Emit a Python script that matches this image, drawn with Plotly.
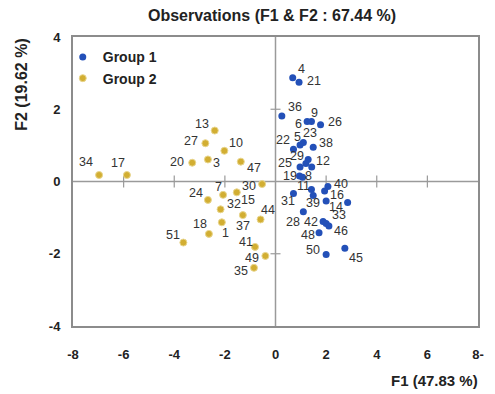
import plotly.graph_objects as go

# ---- data ----
g1_ids = ["4", "21", "36", "6", "9", "26", "22", "5", "23", "38", "29", "2", "12", "25",
          "19", "8", "11", "31", "43", "40", "16", "39", "14", "28", "42", "33", "46",
          "48", "45", "50"]
g1_f1 = [0.68, 0.93, 0.25, 1.25, 1.42, 1.78, 0.71, 0.97, 1.10, 1.49, 1.29, 1.20, 1.43, 0.97,
         0.95, 1.07, 1.42, 0.71, 1.49, 2.07, 1.94, 2.00, 2.85, 1.10, 1.88, 2.00, 2.11,
         1.72, 2.74, 2.00]
g1_f2 = [2.87, 2.75, 1.81, 1.66, 1.66, 1.57, 0.89, 1.01, 1.08, 0.95, 0.61, 0.50, 0.40, 0.40,
         0.15, 0.12, -0.22, -0.33, -0.39, -0.14, -0.26, -0.54, -0.58, -0.84, -1.11, -1.16, -1.23,
         -1.42, -1.85, -2.02]
g1_hidden_labels = ["2", "43"]

g2_ids = ["34", "17", "13", "27", "10", "20", "3", "47", "30", "7", "15", "24", "32", "37",
          "44", "1", "18", "51", "41", "49", "35"]
g2_f1 = [-6.97, -5.87, -2.40, -2.77, -2.02, -3.29, -2.67, -1.37, -0.53, -2.07, -1.53, -2.67,
         -2.17, -1.29, -0.59, -2.12, -2.63, -3.64, -0.81, -0.40, -0.85]
g2_f2 = [0.18, 0.18, 1.41, 1.06, 0.85, 0.52, 0.61, 0.55, -0.07, -0.37, -0.30, -0.51,
         -0.77, -0.93, -1.05, -1.13, -1.45, -1.69, -1.81, -2.06, -2.39]

x_ticks = [-8, -6, -4, -2, 0, 2, 4, 6, 8]
x_ticktext = ["-8", "-6", "-4", "-2", "0", "2", "4", "6", "8-"]
y_ticks = [-4, -2, 0, 2, 4]
y_ticktext = ["-4", "-2", "0", "2", "4"]

# ---- label offsets in pixels (dx right, dy down) : style only ----
g1_off = [(9, -9), (15, -1), (13, -9), (-9, 2), (3, -9), (14, -3), (-10, -9), (-3, -8),
          (7, -9), (13, -4), (-11, -3), (0, 0), (11, -6), (-15, -4), (-10, 0), (6, -1),
          (-8, -3), (-5, 8), (0, 0), (13, -3), (12, 4), (-13, 2), (-12, 5), (-10, 10),
          (-12, 0), (13, -8), (12, 5), (-11, 2), (11, 10), (-13, -4)]
g2_off = [(-13, -13), (-9, -12), (-13, -7), (-14, -2), (12, -8), (-15, -1), (9, 4), (13, 6),
          (-13, 2), (-5, -8), (11, 8), (-12, -7), (13, -5), (0, 11), (7, -9), (4, 11),
          (-9, -10), (-10, -8), (-9, -5), (-13, 2), (-13, 3)]

BLUE = "#2350B8"
GOLD = "#D2AE32"
FONT = "Liberation Sans, Arial, sans-serif"

fig = go.Figure()
fig.add_trace(go.Scatter(
    x=g1_f1, y=g1_f2, mode="markers", name="Group 1",
    marker=dict(color=BLUE, size=7, line=dict(width=0)),
    hovertext=g1_ids,
))
fig.add_trace(go.Scatter(
    x=g2_f1, y=g2_f2, mode="markers", name="Group 2",
    marker=dict(color=GOLD, size=7, line=dict(width=1, color="#E9D68E")),
    hovertext=g2_ids,
))

annotations = []
for ids, xs, ys, offs in [(g1_ids, g1_f1, g1_f2, g1_off), (g2_ids, g2_f1, g2_f2, g2_off)]:
    for lab, xv, yv, (dx, dy) in zip(ids, xs, ys, offs):
        if lab in g1_hidden_labels:
            continue
        annotations.append(dict(text=lab, x=xv, y=yv, xref="x", yref="y",
                                xshift=dx, yshift=-dy, xanchor="center", yanchor="middle",
                                showarrow=False,
                                font=dict(family=FONT, size=12.5, color="#333333")))

annotations += [
    dict(text="<b>F1 (47.83 %)</b>", xref="paper", yref="paper", x=1.005, y=-0.19,
         xanchor="right", yanchor="middle", showarrow=False,
         font=dict(family=FONT, size=15, color="#222222")),
    dict(text="<b>F2 (19.62 %)</b>", xref="paper", yref="paper", x=-0.129, y=1.0,
         xanchor="center", yanchor="top", textangle=-90, showarrow=False,
         font=dict(family=FONT, size=16, color="#222222")),
]

axis_col = "#8C8C8C"
shapes = [
    dict(type="line", xref="x", yref="y", x0=0, x1=0, y0=-4, y1=4,
         line=dict(color="#9A9A9A", width=1.5), layer="below"),
    dict(type="line", xref="x", yref="y", x0=-8, x1=8, y0=0, y1=0,
         line=dict(color="#9A9A9A", width=1.5), layer="below"),
]
for xv in [-6, -4, -2, 2, 4, 6]:
    shapes.append(dict(type="line", xref="x", yref="y", ysizemode="pixel", yanchor=0,
                       x0=xv, x1=xv, y0=-6, y1=6,
                       line=dict(color="#9A9A9A", width=1.2), layer="below"))
for yv in [-2, 2]:
    shapes.append(dict(type="line", xref="x", yref="y", xsizemode="pixel", xanchor=0,
                       x0=-5, x1=5, y0=yv, y1=yv,
                       line=dict(color="#9A9A9A", width=1.2), layer="below"))

fig.update_layout(
    width=495, height=394,
    margin=dict(l=73, r=11, t=37, b=68),
    paper_bgcolor="white", plot_bgcolor="white",
    font=dict(family=FONT, color="#222222"),
    showlegend=True,
    legend=dict(x=-0.0253, y=0.985, xanchor="left", yanchor="top",
                bgcolor="rgba(0,0,0,0)", borderwidth=0,
                font=dict(family=FONT, size=14, color="#222222", weight="bold"),
                tracegroupgap=0),
    title=dict(text="<b>Observations (F1 & F2 : 67.44 %)</b>", x=272 / 495, xanchor="center",
               y=1 - 15 / 394, yanchor="middle",
               font=dict(family=FONT, size=16, color="#222222")),
    xaxis=dict(range=[-8, 8], tickvals=x_ticks, ticktext=x_ticktext,
               showgrid=False, zeroline=False, ticks="",
               showline=True, linecolor=axis_col, linewidth=2, mirror=True,
               ticklabelstandoff=15,
               tickfont=dict(family=FONT, size=13, color="#222222", weight="bold")),
    yaxis=dict(range=[-4, 4], tickvals=y_ticks, ticktext=y_ticktext,
               showgrid=False, zeroline=False, ticks="",
               showline=True, linecolor=axis_col, linewidth=2, mirror=True,
               ticklabelstandoff=8,
               tickfont=dict(family=FONT, size=13, color="#222222", weight="bold")),
    shapes=shapes,
    annotations=annotations,
)

fig.write_html("out.html")
